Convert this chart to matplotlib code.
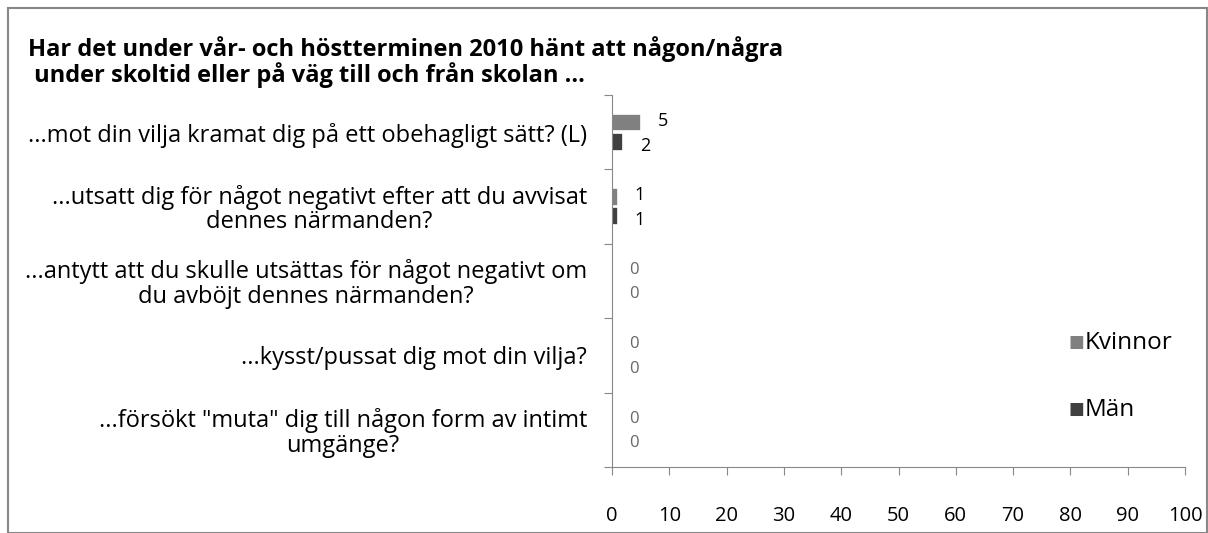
import matplotlib
matplotlib.use("Agg")
import matplotlib.pyplot as plt
import numpy as np
from matplotlib.patches import Rectangle

categories = [
    "...mot din vilja kramat dig på ett obehagligt sätt? (L)",
    "...utsatt dig för något negativt efter att du avvisat\ndennes närmanden?",
    "...antytt att du skulle utsättas för något negativt om\ndu avböjt dennes närmanden?",
    "...kysst/pussat dig mot din vilja?",
    "...försökt \"muta\" dig till någon form av intimt\numgänge?",
]
kvinnor = [5, 1, 0, 0, 0]
man = [2, 1, 0, 0, 0]
series_names = ["Kvinnor", "Män"]
colors = ["#808080", "#404040"]
xticks = list(range(0, 101, 10))
title = "Har det under vår- och höstterminen 2010 hänt att någon/några\n under skoltid eller på väg till och från skolan ..."

plt.rcParams['font.family'] = ['Open Sans', 'DejaVu Sans']

fig = plt.figure(figsize=(12.08, 5.33), dpi=100)
ax = fig.add_axes([612/1208, 1-467/533, (1185-612)/1208, (467-95)/533])

n = len(categories)
y = np.arange(n)
h = 0.24
ax.barh(y - h/2 - 0.01, kvinnor, height=h, color=colors[0], label=series_names[0],
        edgecolor="white", linewidth=1.2)
ax.barh(y + h/2 + 0.01, man, height=h, color=colors[1], label=series_names[1],
        edgecolor="white", linewidth=1.2)

for i in range(n):
    ax.annotate(str(kvinnor[i]), (kvinnor[i], y[i] - 0.15), xytext=(12, 0),
                textcoords="offset points", fontsize=13 if kvinnor[i] else 12,
                va="center", ha="left",
                color="#000000" if kvinnor[i] else "#666666")
    ax.annotate(str(man[i]), (man[i], y[i] + 0.18), xytext=(12, 0),
                textcoords="offset points", fontsize=13 if man[i] else 12,
                va="center", ha="left",
                color="#000000" if man[i] else "#666666")

ax.set_xlim(0, 100)
ax.set_ylim(n - 0.5, -0.5)
ax.set_xticks(xticks)
ax.set_xticklabels([str(t) for t in xticks], fontsize=14.5)
ax.set_yticks(np.arange(-0.5, n, 1.0), minor=False)
ax.set_yticklabels([])
ax.set_yticks(y, minor=True)
ax.set_yticklabels(categories, minor=True, fontsize=17, multialignment="center",
                   linespacing=1.02)
ax.tick_params(axis="y", which="minor", length=0, pad=18)
ax.tick_params(axis="y", which="major", length=6, color="#888888", direction="out")
ax.tick_params(axis="x", length=6, color="#888888", direction="out", pad=22)
for s in ["top", "right"]:
    ax.spines[s].set_visible(False)
ax.spines["left"].set_color("#888888")
ax.spines["bottom"].set_color("#888888")

# legend
fig.text(1069/1208, 1-343/533, "■", fontsize=12, color=colors[0], va="center", ha="left")
fig.text(1085/1208, 1-343/533, series_names[0], fontsize=17.5, va="center", ha="left")
fig.text(1069/1208, 1-410/533, "■", fontsize=12, color=colors[1], va="center", ha="left")
fig.text(1085/1208, 1-410/533, series_names[1], fontsize=17.5, va="center", ha="left")

fig.text(28/1208, 1-62/533, title, fontsize=17, fontweight="bold", va="center", ha="left",
         linespacing=1.0)

fig.patches.append(Rectangle((8/1208, 0), 1 - 8/1208 - 0.001, 1 - 8/533, transform=fig.transFigure,
                             fill=False, edgecolor="#888888", linewidth=1.5))

fig.savefig("out.png", dpi=100)
